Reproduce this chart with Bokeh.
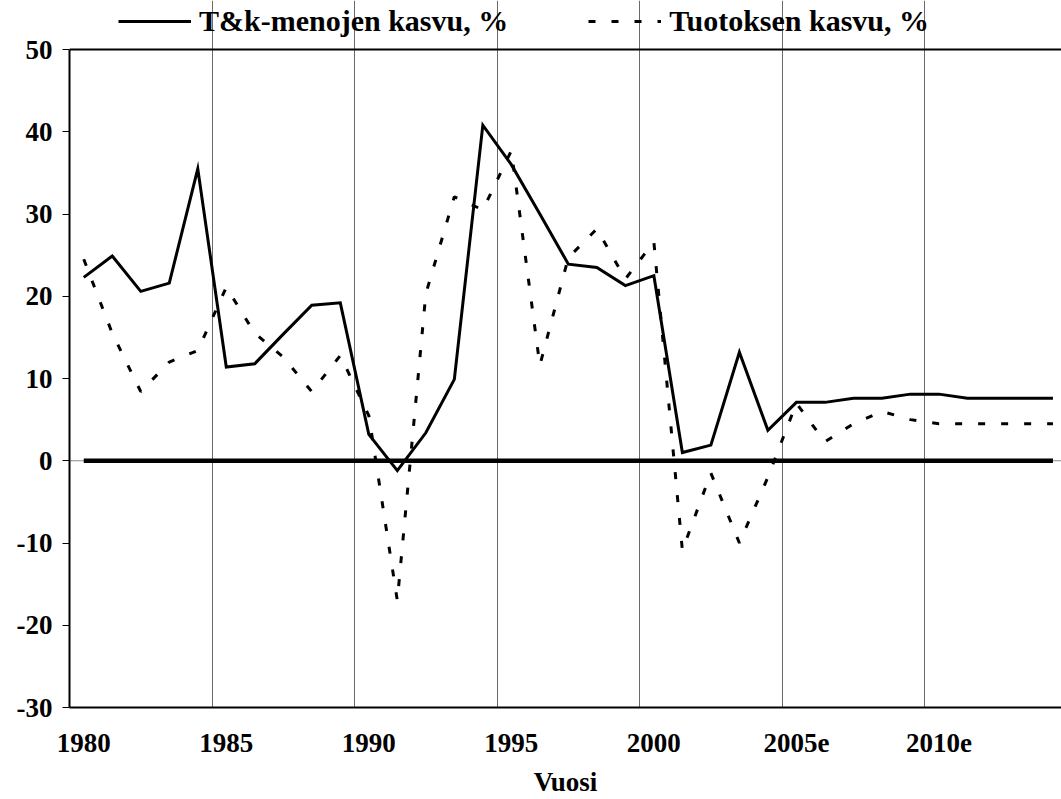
from bokeh.plotting import figure
from bokeh.models import Range1d, FixedTicker, Legend, LegendItem, Span
from bokeh.embed import file_html
from bokeh.resources import INLINE

# ---- data ----
years = [1980, 1981, 1982, 1983, 1984, 1985, 1986, 1987, 1988, 1989,
         1990, 1991, 1992, 1993, 1994, 1995, 1996, 1997, 1998, 1999,
         2000, 2001, 2002, 2003, 2004, 2005, 2006, 2007, 2008, 2009,
         2010, 2011, 2012, 2013, 2014]
tick_years = [1980, 1985, 1990, 1995, 2000, 2005, 2010]
tick_labels = ["1980", "1985", "1990", "1995", "2000", "2005e", "2010e"]
y_ticks = [-30, -20, -10, 0, 10, 20, 30, 40, 50]
y_tick_labels = ["-30", "-20", "-10", "0", "10", "20", "30", "40", "50"]
y_min, y_max = -30, 50

rd_growth = [22.3, 24.9, 20.6, 21.6, 35.5, 11.4, 11.8, 15.4, 18.9, 19.2,
             3.2, -1.2, 3.4, 9.9, 40.8, 36.0, 30.0, 23.9, 23.5, 21.3,
             22.5, 1.0, 1.9, 13.2, 3.7, 7.1, 7.1, 7.6, 7.6, 8.1,
             8.1, 7.6, 7.6, 7.6, 7.6]
output_growth = [24.5, 15.5, 8.4, 12.0, 13.4, 21.1, 15.5, 12.6, 8.4, 12.8,
                 5.5, -17.0, 20.3, 32.1, 30.5, 37.7, 11.6, 24.7, 28.2, 22.1,
                 26.6, -10.9, -1.5, -10.0, -2.0, 7.0, 2.3, 4.5, 6.0, 5.0,
                 4.5, 4.5, 4.5, 4.5, 4.5]
zero_line = [0, 0, 0, 0, 0, 0, 0, 0, 0, 0,
             0, 0, 0, 0, 0, 0, 0, 0, 0, 0,
             0, 0, 0, 0, 0, 0, 0, 0, 0, 0,
             0, 0, 0, 0, 0]

label_rd = "T&k-menojen kasvu, %"
label_out = "Tuotoksen kasvu, %"
x_title = "Vuosi"

FONT = "Liberation Serif"

# frame covers the canvas top so the legend (drawn in the frame) is not clipped;
# the value axis itself is bounded to -30..50
p = figure(width=1061, height=799, output_backend="svg", toolbar_location=None,
           x_range=Range1d(1979.5, 2014.3), y_range=Range1d(y_min, 55.96),
           min_border_left=69, min_border_right=0, min_border_top=0,
           min_border_bottom=92)
p.outline_line_color = None
p.background_fill_color = "white"
p.border_fill_color = "white"

# x axis
xa = p.xaxis[0]
xa.ticker = FixedTicker(ticks=tick_years)
xa.major_label_overrides = {y: l for y, l in zip(tick_years, tick_labels)}
xa.major_tick_out = 0
xa.major_tick_in = 0
xa.minor_tick_out = 0
xa.minor_tick_in = 0
xa.major_label_standoff = 26
xa.axis_line_width = 2
xa.axis_line_color = "black"
xa.major_label_text_font = FONT
xa.major_label_text_font_style = "bold"
xa.major_label_text_font_size = "27px"
xa.major_label_text_color = "black"
xa.axis_label = x_title
xa.axis_label_standoff = 12
xa.axis_label_text_font = FONT
xa.axis_label_text_font_style = "bold"
xa.axis_label_text_font_size = "27px"
xa.axis_label_text_color = "black"

# y axis
ya = p.yaxis[0]
ya.bounds = (y_min, y_max)
ya.ticker = FixedTicker(ticks=y_ticks)
ya.major_label_overrides = {t: l for t, l in zip(y_ticks, y_tick_labels)}
ya.major_tick_out = 7
ya.major_tick_in = 0
ya.minor_tick_out = 0
ya.minor_tick_in = 0
ya.major_tick_line_width = 1
ya.major_tick_line_color = "black"
ya.major_label_standoff = 10
ya.axis_line_width = 2
ya.axis_line_color = "black"
ya.major_label_text_font = FONT
ya.major_label_text_font_style = "bold"
ya.major_label_text_font_size = "27px"
ya.major_label_text_color = "black"

# grid: vertical lines between category groups, limited to the value range
g = p.xgrid[0]
g.ticker = FixedTicker(ticks=[1984.5, 1989.5, 1994.5, 1999.5, 2004.5, 2009.5])
g.bounds = (y_min, y_max)
g.grid_line_color = "#6a6a6a"
g.grid_line_width = 1
p.ygrid[0].visible = False

# top border of the plot area and thin zero axis
p.add_layout(Span(location=y_max, dimension="width", line_color="black", line_width=2))
p.add_layout(Span(location=0, dimension="width", line_color="#8a8a8a", line_width=1,
                  level="underlay"))

# series
p.line(years, zero_line, line_color="black", line_width=4.5)
r2 = p.line(years, output_growth, line_color="black", line_width=3, line_dash="7 16")
r1 = p.line(years, rd_growth, line_color="black", line_width=3, line_join="miter")

legend = Legend(items=[LegendItem(label=label_rd, renderers=[r1]),
                       LegendItem(label=label_out, renderers=[r2])],
                location=(49, 669), orientation="horizontal",
                glyph_width=73, glyph_height=30, label_height=30,
                label_standoff=8, spacing=80, padding=0, margin=0,
                border_line_color=None, background_fill_alpha=0,
                label_text_font=FONT, label_text_font_style="bold",
                label_text_font_size="30px", label_text_color="black")
p.add_layout(legend, "center")

open("out.html", "w").write(file_html(p, INLINE))
